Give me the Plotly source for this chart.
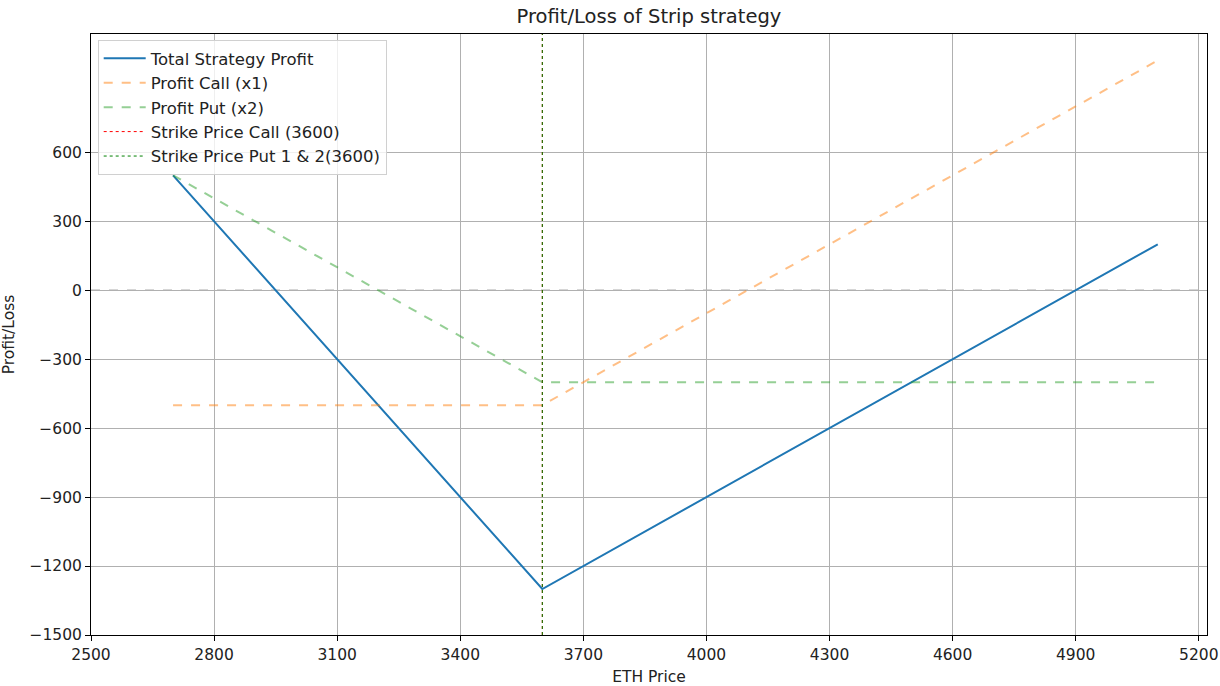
import plotly.graph_objects as go

# breakpoints of the payoff lines
eth_price = [2700, 3600, 5100]
total_profit = [500, -1300, 200]
profit_call = [-500, -500, 1000]
profit_put = [500, -400, -400]

strike_call = 3600
strike_put = 3600

x_ticks = [2500, 2800, 3100, 3400, 3700, 4000, 4300, 4600, 4900, 5200]
y_ticks = [-1500, -1200, -900, -600, -300, 0, 300, 600]
x_range = [2500, 5220]
y_range = [-1500, 1115]

fig = go.Figure()

fig.add_trace(go.Scatter(x=eth_price, y=total_profit, mode="lines",
                         name="Total Strategy Profit",
                         line=dict(color="#1f77b4", width=2)))
fig.add_trace(go.Scatter(x=eth_price, y=profit_call, mode="lines",
                         name="Profit Call (x1)",
                         line=dict(color="rgba(255,127,14,0.5)", width=2, dash="dash")))
fig.add_trace(go.Scatter(x=eth_price, y=profit_put, mode="lines",
                         name="Profit Put (x2)",
                         line=dict(color="rgba(44,160,44,0.5)", width=2, dash="dash")))
fig.add_trace(go.Scatter(x=[strike_call, strike_call], y=y_range, mode="lines",
                         name=f"Strike Price Call ({strike_call})",
                         line=dict(color="red", width=1, dash="dot")))
fig.add_trace(go.Scatter(x=[strike_put, strike_put], y=y_range, mode="lines",
                         name=f"Strike Price Put 1 & 2({strike_put})",
                         line=dict(color="green", width=1, dash="dot")))

# zero line
fig.add_shape(type="line", xref="paper", yref="y", x0=0, x1=1, y0=0, y1=0,
              line=dict(color="#5a5a5a", width=1, dash="dash"), layer="between")

axis_style = dict(showline=True, mirror=True, linecolor="black", linewidth=1,
                  showgrid=True, gridcolor="#b0b0b0", gridwidth=1,
                  ticks="outside", ticklen=5, tickcolor="black",
                  zeroline=False, tickfont=dict(size=15.5, color="#222"),
                  automargin=False)

fig.update_xaxes(range=x_range, tickvals=x_ticks,
                 title=dict(text="ETH Price", standoff=9, font=dict(size=15.5)),
                 **axis_style)
fig.update_yaxes(range=y_range, tickvals=y_ticks,
                 title=dict(text="Profit/Loss", standoff=12, font=dict(size=15.5)),
                 tickformat="d", **axis_style)

fig.update_layout(
    width=1220, height=686,
    template="none",
    font=dict(family="DejaVu Sans", size=16, color="#222"),
    title=dict(text="Profit/Loss of Strip strategy", x=0.5, xref="paper", xanchor="center",
               y=1 - 16 / 686, yref="container", yanchor="middle",
               font=dict(size=19.5, color="#222")),
    margin=dict(l=91, r=13, t=34, b=51),
    plot_bgcolor="white", paper_bgcolor="white",
    showlegend=True,
    legend=dict(x=0.006, y=0.99, xanchor="left", yanchor="top",
                bgcolor="rgba(255,255,255,0.8)", bordercolor="#d0d0d0", borderwidth=1,
                font=dict(size=16.5, color="#222"), tracegroupgap=0, itemwidth=42),
)

fig.write_html("out.html", config={"displayModeBar": False},
               post_script="document.body.style.margin='0';")
